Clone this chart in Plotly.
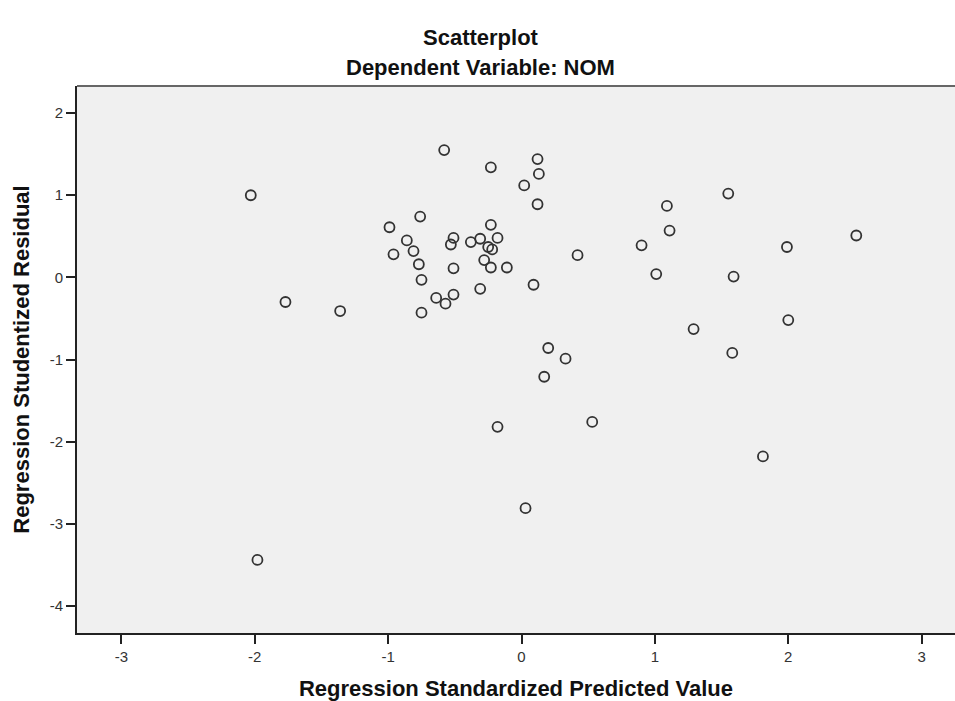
import plotly.graph_objects as go

# Regression Standardized Predicted Value (x) and Studentized Residual (y)
pred = [-2.03, -1.77, -1.36, -1.98, -0.99, -0.96, -0.86, -0.81, -0.76, -0.77,
        -0.75, -0.75, -0.64, -0.57, -0.51, -0.51, -0.53, -0.51, -0.58, -0.38,
        -0.31, -0.28, -0.31, -0.25, -0.23, -0.23, -0.22, -0.23, -0.18, -0.11,
        -0.18, 0.02, 0.12, 0.13, 0.12, 0.09, 0.03, 0.20, 0.17, 0.33,
        0.42, 0.53, 0.90, 1.01, 1.09, 1.11, 1.29, 1.55, 1.59, 1.58,
        1.99, 2.00, 1.81, 2.51]
resid = [1.00, -0.30, -0.41, -3.44, 0.61, 0.28, 0.45, 0.32, 0.74, 0.16,
         -0.03, -0.43, -0.25, -0.32, -0.21, 0.11, 0.40, 0.48, 1.55, 0.43,
         0.47, 0.21, -0.14, 0.37, 0.64, 1.34, 0.34, 0.12, 0.48, 0.12,
         -1.82, 1.12, 1.44, 1.26, 0.89, -0.09, -2.81, -0.86, -1.21, -0.99,
         0.27, -1.76, 0.39, 0.04, 0.87, 0.57, -0.63, 1.02, 0.01, -0.92,
         0.37, -0.52, -2.18, 0.51]

xticks = [-3, -2, -1, 0, 1, 2, 3]
yticks = [2, 1, 0, -1, -2, -3, -4]

title_lines = ["Scatterplot", "Dependent Variable: NOM"]

font = "Liberation Sans, Arial, sans-serif"
tsize = 22

fig = go.Figure()
fig.add_trace(go.Scatter(
    x=pred, y=resid, mode="markers",
    marker=dict(symbol="circle-open", size=10, color="#333333",
                line=dict(width=1.8, color="#333333")),
    hoverinfo="x+y", showlegend=False,
))

# two title lines, centred like the reference
fig.add_annotation(text="<b>%s</b>" % title_lines[0], xref="paper", yref="paper",
                   x=0.46, y=1.088, xanchor="center", yanchor="middle",
                   showarrow=False, font=dict(family=font, size=tsize, color="#111111"))
fig.add_annotation(text="<b>%s</b>" % title_lines[1], xref="paper", yref="paper",
                   x=0.46, y=1.033, xanchor="center", yanchor="middle",
                   showarrow=False, font=dict(family=font, size=tsize, color="#111111"))

# slightly lighter top frame line, as in the reference
fig.add_shape(type="line", xref="paper", yref="paper", x0=0, x1=1, y0=1, y1=1,
              line=dict(color="#666666", width=2))

fig.update_layout(
    width=955, height=701,
    margin=dict(l=77, r=0, t=86, b=68, autoexpand=False),
    paper_bgcolor="white",
    plot_bgcolor="#f0f0f0",
    font=dict(family=font, size=15, color="#333333"),
    xaxis=dict(
        range=[-3.333, 3.25], tickvals=xticks, ticktext=[str(v) for v in xticks],
        showgrid=False, zeroline=False, automargin=False,
        showline=True, linecolor="#222222", linewidth=2,
        ticks="outside", ticklen=9, tickwidth=1.5, tickcolor="#222222",
        title=dict(text="<b>Regression Standardized Predicted Value</b>",
                   font=dict(family=font, size=tsize, color="#111111"), standoff=18),
    ),
    yaxis=dict(
        range=[-4.33, 2.33], tickvals=yticks, ticktext=[str(v) for v in yticks],
        showgrid=False, zeroline=False, automargin=False,
        showline=True, linecolor="#222222", linewidth=2,
        ticks="outside", ticklen=9, tickwidth=1.5, tickcolor="#222222",
        title=dict(text="<b>Regression Studentized Residual</b>",
                   font=dict(family=font, size=tsize, color="#111111"), standoff=14),
    ),
)

fig.write_html("out.html", config={"displayModeBar": False},
               post_script="document.body.style.margin='0';document.body.style.overflow='hidden';")
